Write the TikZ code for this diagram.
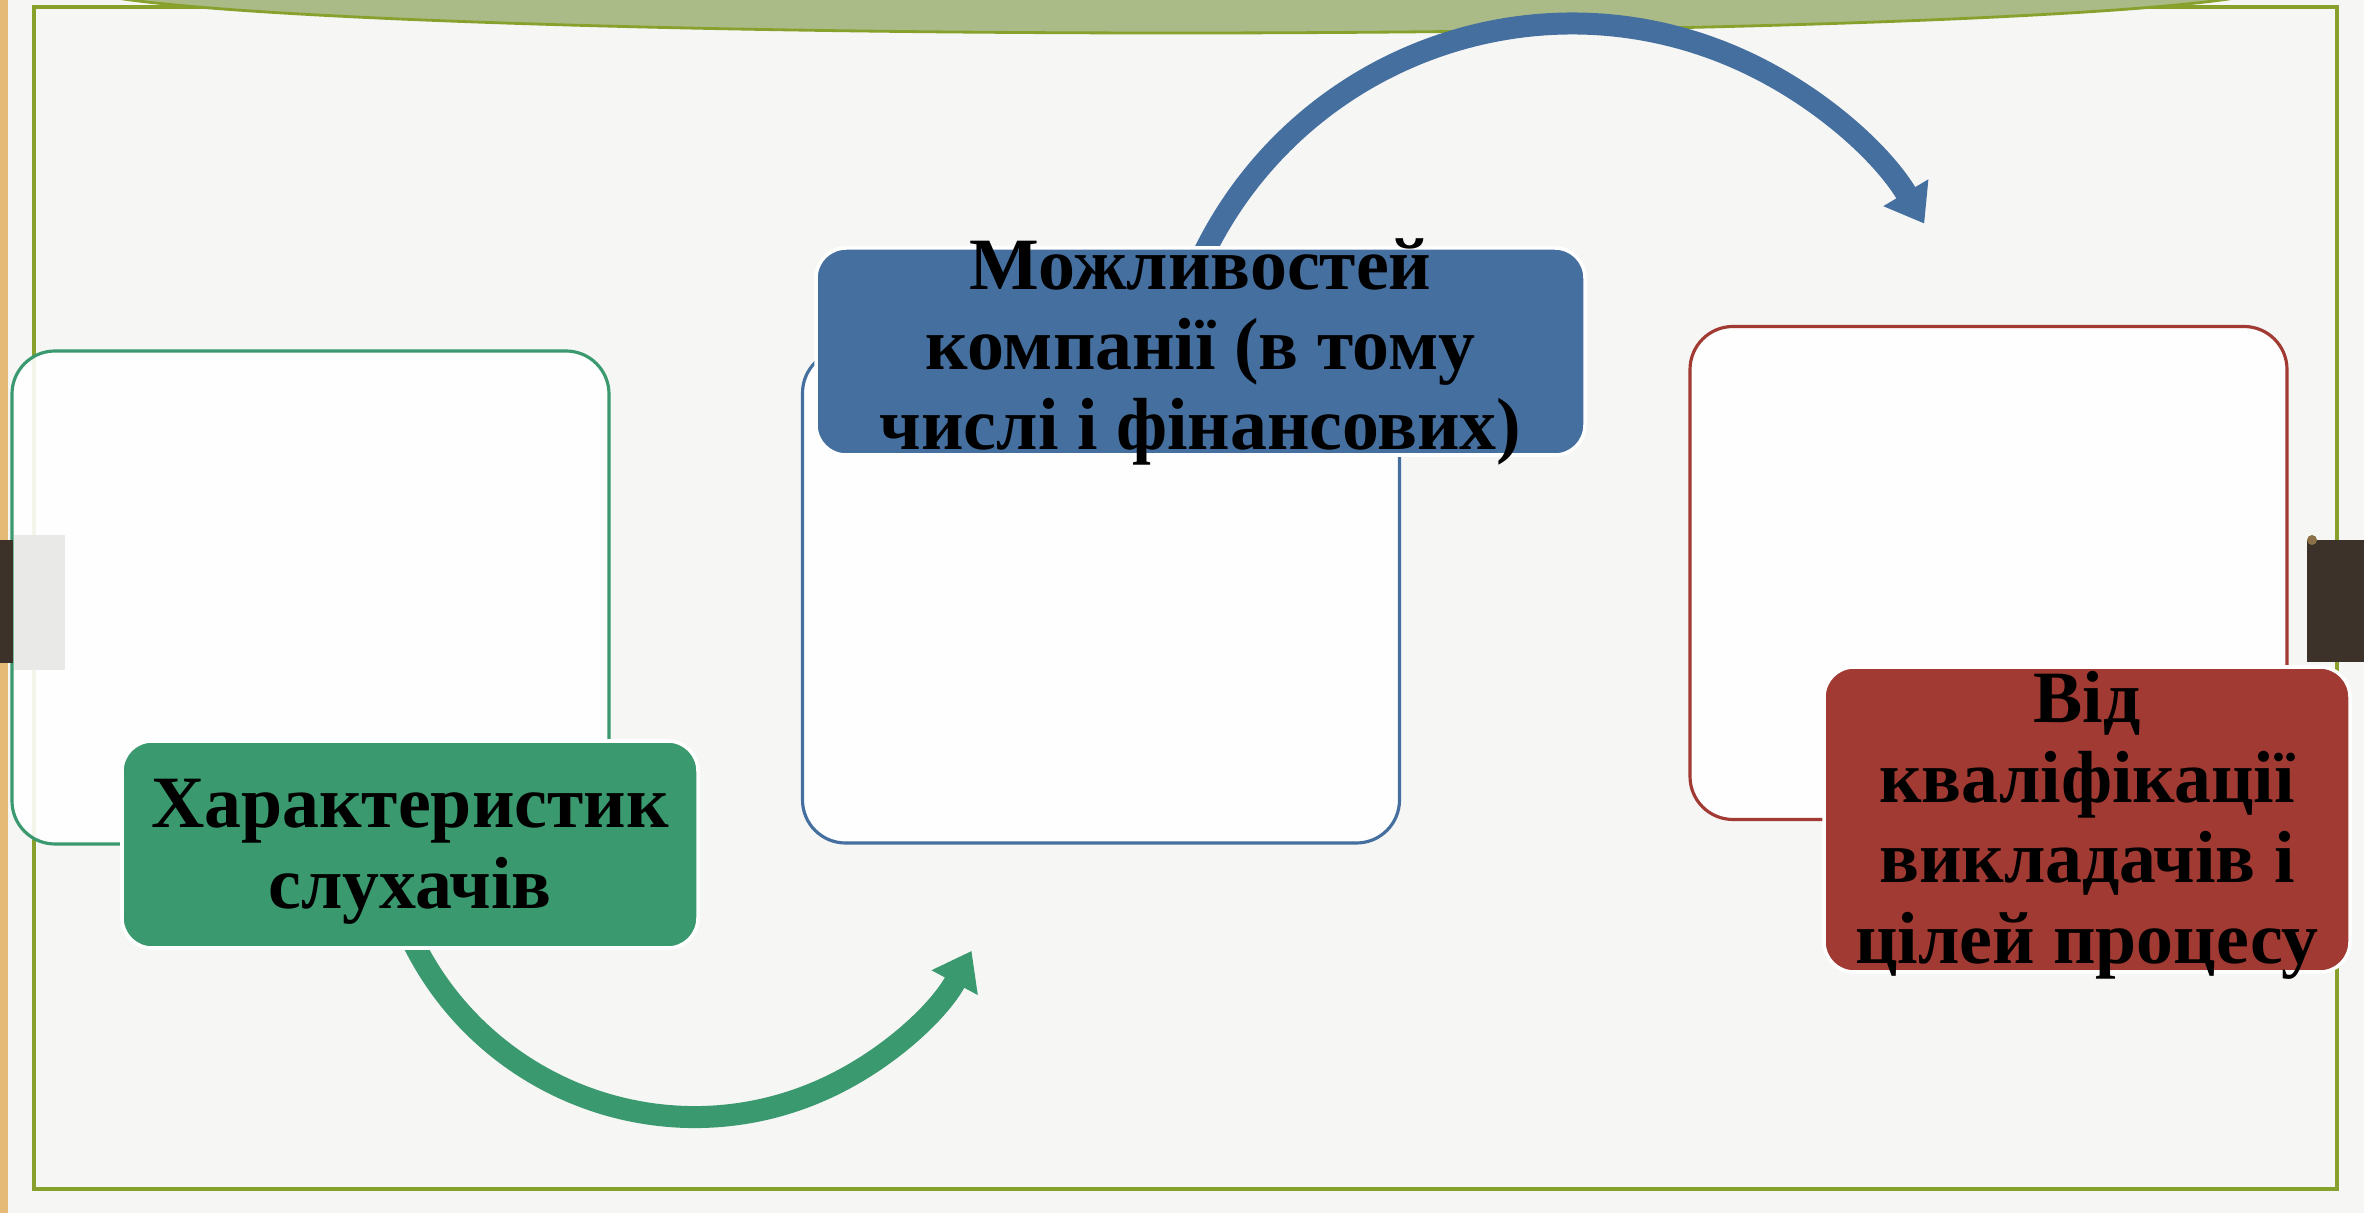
\documentclass[tikz,border=0pt]{standalone}
\usepackage{fontspec}
\setmainfont{Liberation Serif}
\usetikzlibrary{arrows.meta,backgrounds}

\definecolor{paper}{RGB}{246,246,245}
\definecolor{tanstrip}{RGB}{228,186,118}
\definecolor{frameolive}{RGB}{136,160,44}
\definecolor{bannergreen}{RGB}{171,187,135}
\definecolor{tabdark}{RGB}{60,50,41}
\definecolor{tabgray}{RGB}{233,233,231}
\definecolor{knob}{RGB}{140,112,72}
\definecolor{pgreen}{RGB}{58,153,111}
\definecolor{pblue}{RGB}{69,111,158}
\definecolor{pred}{RGB}{161,58,50}

\begin{document}
\begin{tikzpicture}[
  font=\bfseries\fontsize{21}{22.8}\selectfont,
  panel/.style={draw,line width=0.9pt,fill=white,fill opacity=0.9,
                rounded corners=0.43cm,minimum width=5.97cm,minimum height=4.93cm},
  stage/.style={draw=white,line width=1pt,rounded corners=0.3cm,align=center,
                inner sep=0pt,text=black,text depth=0pt},
  arr/.style={line width=0.22cm,-{Triangle[length=0.36cm,width=0.5cm]}},
]
\useasboundingbox (0,0) rectangle (23.64,-12.13);

% ---- Panels -----------------------------------------------------------------
\node[panel,draw=pgreen] (pL) at (3.105,-5.975) {};
\node[panel,draw=pblue]  (pM) at (11.01,-5.965) {};
\node[panel,draw=pred]   (pR) at (19.885,-5.73) {};

% ---- Labelled stages --------------------------------------------------------
\node[stage,fill=pgreen,minimum width=5.76cm,minimum height=2.07cm,text height=1.27cm]
     (sL) at (4.10,-8.445) {Характеристик\\слухачів};
\node[stage,fill=pblue,minimum width=7.69cm,minimum height=2.07cm,text height=1.97cm]
     (sM) at (12.005,-3.515) {Можливостей\\компанії (в тому\\числі і фінансових)};
\node[stage,fill=pred,minimum width=5.26cm,minimum height=3.05cm,text height=2.87cm]
     (sR) at (20.87,-8.195) {Від\\кваліфікації\\викладачів і\\цілей процесу};

% ---- Side tab (left) --------------------------------------------------------
\fill[tabdark] (0,-5.40) rectangle (0.13,-6.63);
\fill[tabgray] (0.14,-5.35) rectangle (0.65,-6.70);

% ---- Slide background, frame and banner ---------------------------------------
\begin{scope}[on background layer]
  \fill[paper] (0,0) rectangle (23.64,-12.13);
  \fill[tanstrip] (0,0) rectangle (0.08,-12.13);
  \draw[frameolive,line width=1.1pt] (0.34,-0.07) rectangle (23.37,-11.89);
  \begin{scope}
    \clip (0,0) rectangle (23.64,-12.13);
    \draw[frameolive,line width=0.8pt,fill=bannergreen]
         (11.76,0.15) ellipse[x radius=11.0,y radius=0.48];
  \end{scope}
  \fill[tabdark] (23.07,-5.40) rectangle (23.64,-6.62);
  \fill[knob] (23.12,-5.40) circle (0.05);

  % curved arrows between stages
  \draw[arr,pblue]  ([yshift=-4pt]sM.north) arc[start angle=155,end angle=30.8,radius=4.1];
  \draw[arr,pgreen] ([yshift=4pt]sL.south)  arc[start angle=205,end angle=331.9,radius=3.14];
\end{scope}

\end{tikzpicture}
\end{document}
